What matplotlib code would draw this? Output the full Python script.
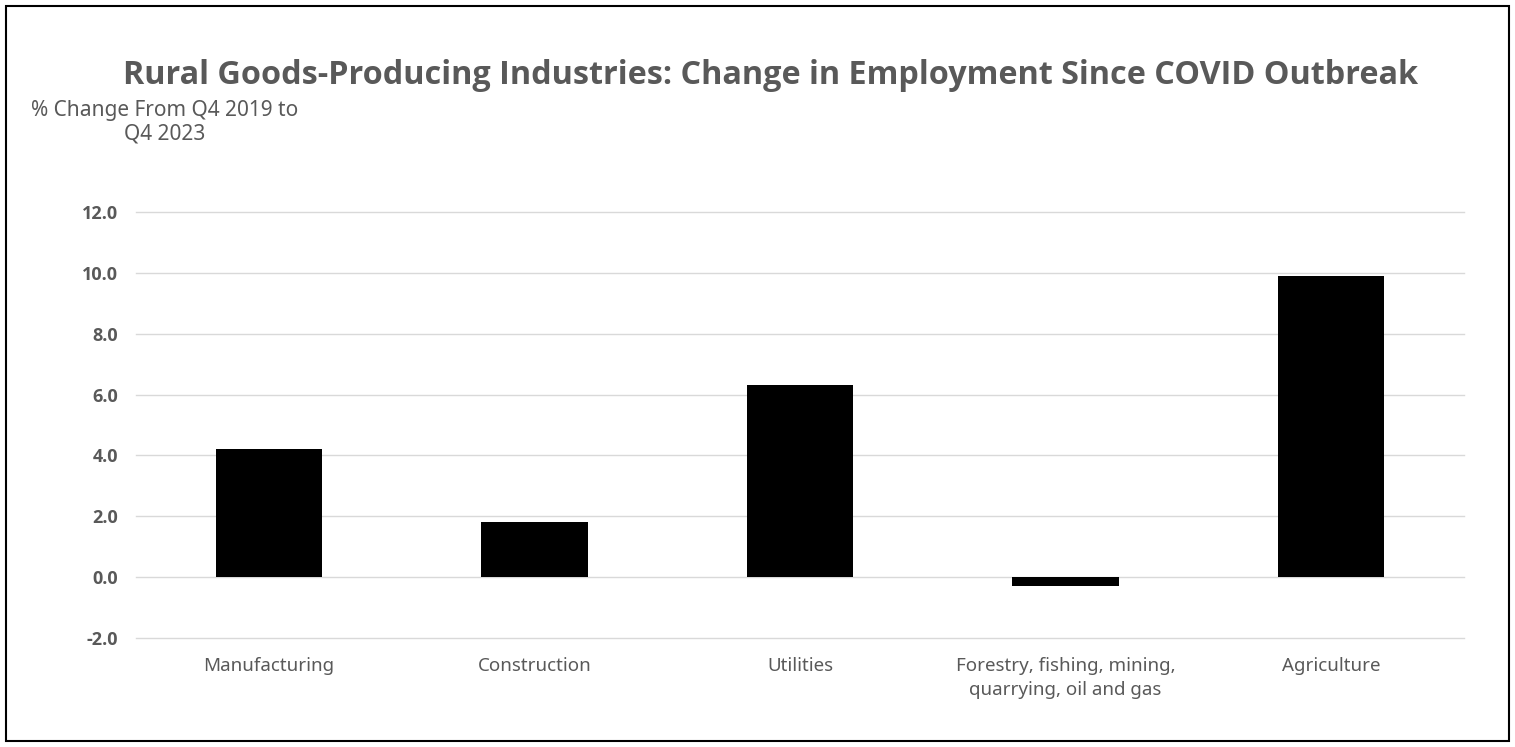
import matplotlib
import matplotlib.pyplot as plt
from matplotlib.patches import Rectangle

matplotlib.use('Agg')

categories = ["Manufacturing", "Construction", "Utilities",
              "Forestry, fishing, mining,\nquarrying, oil and gas", "Agriculture"]
values = [4.2, 1.8, 6.3, -0.3, 9.9]
yticks = [-2, 0, 2, 4, 6, 8, 10, 12]

grey = "#595959"

fig = plt.figure(figsize=(15.15, 7.47), dpi=100)
ax = fig.add_axes([136 / 1515, 1 - 638 / 747, (1464 - 136) / 1515, (638 - 212) / 747])

ax.bar(range(len(categories)), values, width=0.4, color="black", zorder=3)
ax.set_xlim(-0.5, len(categories) - 0.5)
ax.set_ylim(-2, 12)
ax.set_yticks(yticks)
ax.set_yticklabels([f"{v:.1f}" for v in yticks], fontsize=13, fontweight="bold",
                   color=grey, family="Open Sans")
ax.set_xticks(range(len(categories)))
ax.set_xticklabels(categories, fontsize=13.5, color=grey, family="Noto Sans", linespacing=1.4)
ax.tick_params(length=0, axis="y", pad=13)
ax.tick_params(length=0, axis="x", pad=14)
ax.grid(axis="y", color="#d9d9d9", linewidth=1, zorder=0)
for gl in ax.get_ygridlines():
    gl.set_clip_on(False)
for s in ax.spines.values():
    s.set_visible(False)

fig.text(771 / 1515, 1 - 75 / 747, "Rural Goods-Producing Industries: Change in Employment Since COVID Outbreak",
         ha="center", va="center", fontsize=23.3, fontweight="bold", color=grey, family="Open Sans")
fig.text(165 / 1515, 1 - 122 / 747, "% Change From Q4 2019 to\nQ4 2023", ha="center", va="center",
         fontsize=15, color=grey, family="Noto Sans", linespacing=1.15)

fig.patches.append(Rectangle((6 / 1515, 6 / 747), 1 - 12 / 1515, 1 - 12 / 747,
                             transform=fig.transFigure, fill=False, edgecolor="black", linewidth=1.5))

fig.savefig("out.png", dpi=100)
